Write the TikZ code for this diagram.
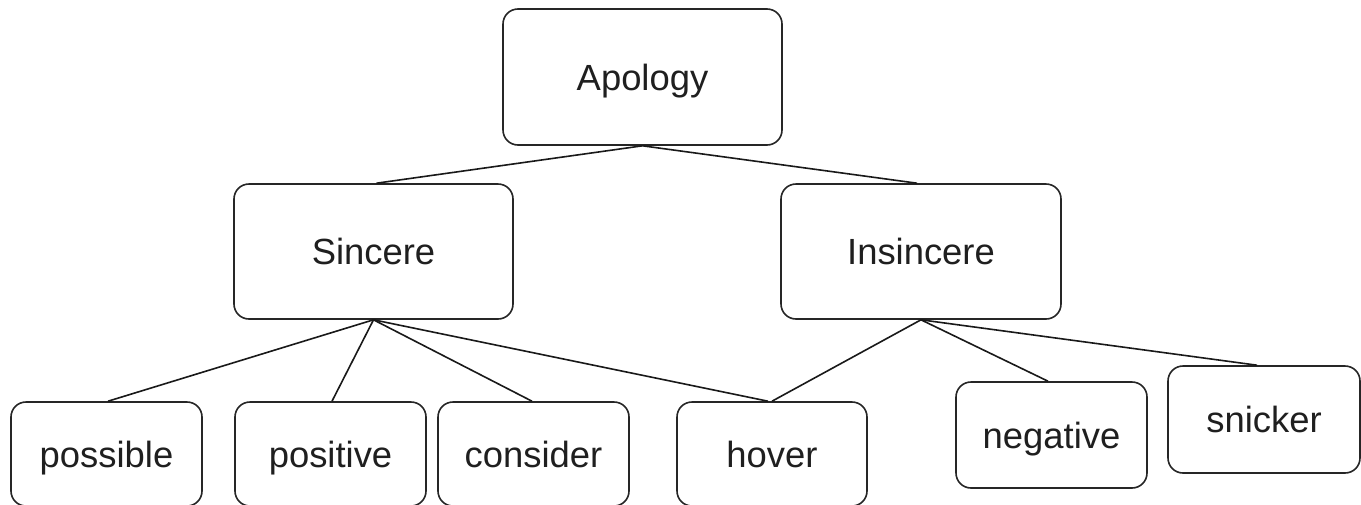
\documentclass[tikz,border=0pt]{standalone}
\usepackage{fontspec}
\setmainfont{Liberation Sans}
\begin{document}
\begin{tikzpicture}[x=1pt,y=-1pt,
  box/.style={draw=black!85, line width=1.6pt, rounded corners=15pt, inner sep=0pt,
    font=\fontsize{36.4}{43}\selectfont, text=black!88, text height=26pt, text depth=0pt,
    minimum width=#1},
  box/.default=279pt,
  link/.style={draw=black!90, line width=1.6pt}]
\clip (0,0) rectangle (1361,504);
\fill[white] (0,0) rectangle (1361,504);
\node[box=279pt, minimum height=136pt] (apology) at (642.5,77) {Apology};
\node[box=279pt, minimum height=135pt] (sincere) at (373.5,251.5) {Sincere};
\node[box=280pt, minimum height=135pt] (insincere) at (921,251.5) {Insincere};
\node[box=191pt, minimum height=104pt] (possible) at (106.5,454) {possible};
\node[box=191pt, minimum height=104pt] (positive) at (330.5,454) {positive};
\node[box=191pt, minimum height=104pt] (consider) at (533.5,454) {consider};
\node[box=190pt, minimum height=104pt] (hover) at (772,454) {hover};
\node[box=191pt, minimum height=106pt] (negative) at (1051.5,435) {negative};
\node[box=192pt, minimum height=107pt] (snicker) at (1264,419.5) {snicker};
\draw[link] (apology.south) -- ([xshift=3pt]sincere.north);
\draw[link] (apology.south) -- ([xshift=-4pt]insincere.north);
\draw[link] (sincere.south) -- ([xshift=1.5pt]possible.north);
\draw[link] (sincere.south) -- ([xshift=1.5pt]positive.north);
\draw[link] (sincere.south) -- ([xshift=-1.5pt]consider.north);
\draw[link] (sincere.south) -- ([xshift=-4pt]hover.north);
\draw[link] (insincere.south) -- (hover.north);
\draw[link] (insincere.south) -- ([xshift=-3.5pt]negative.north);
\draw[link] (insincere.south) -- ([xshift=-7pt]snicker.north);
\end{tikzpicture}
\end{document}
